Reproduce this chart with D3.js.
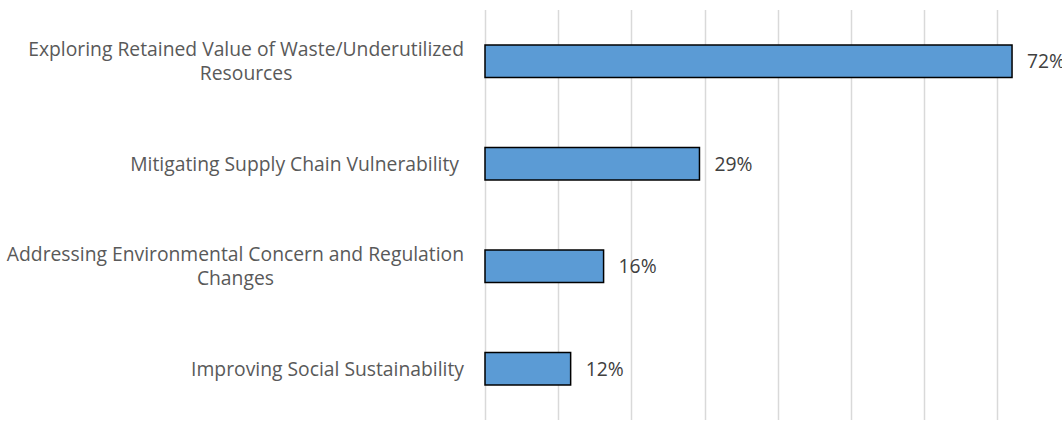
<!DOCTYPE html>
<html>
<head>
<meta charset="utf-8">
<script src="https://cdn.jsdelivr.net/npm/d3@7"></script>
<style>
  html, body { margin: 0; padding: 0; background: #fff; }
  svg { display: block; }
</style>
</head>
<body>
<svg id="chart" width="1062" height="422"></svg>
<script>
// ---- data ----
const categories = [
  ["Exploring Retained Value of Waste/Underutilized", "Resources"],
  ["Mitigating Supply Chain Vulnerability "],
  ["Addressing Environmental Concern and Regulation", "Changes"],
  ["Improving Social Sustainability"]
];
const values = [0.72, 0.293, 0.162, 0.117];
const gridTicks = [0, 0.1, 0.2, 0.3, 0.4, 0.5, 0.6, 0.7, 0.8];
const fmt = d3.format(".0%");

// ---- layout ----
const plotLeft = 485, plotTop = 10, plotBottom = 420;
const pxPer10 = 73.2;
const svg = d3.select("#chart");
const font = "'Open Sans', sans-serif";

const x = d3.scaleLinear().domain([0, 0.8]).range([plotLeft, plotLeft + pxPer10 * 8]);
const idx = d3.range(values.length);
const y = d3.scaleBand().domain(idx).range([plotTop, plotBottom])
  .paddingInner(0.683).paddingOuter(0.683 / 2);

// fit category font size so the longest first line is ~436px wide
const probe = svg.append("text").attr("font-family", font).attr("font-size", 20)
  .text(categories[0][0]);
const w20 = probe.node().getComputedTextLength();
probe.remove();
const catFS = Math.min(20, 20 * 436 / w20);

// gridlines
svg.append("g").selectAll("line").data(gridTicks).join("line")
  .attr("x1", d => Math.round(x(d)) + 0.5).attr("x2", d => Math.round(x(d)) + 0.5)
  .attr("y1", plotTop).attr("y2", plotBottom)
  .attr("stroke", "#d9d9d9").attr("stroke-width", 1.5);

// bars
svg.append("g").selectAll("rect").data(idx).join("rect")
  .attr("x", x(0))
  .attr("y", i => y(i))
  .attr("width", i => x(values[i]) - x(0))
  .attr("height", y.bandwidth())
  .attr("fill", "#5b9bd5")
  .attr("stroke", "#000")
  .attr("stroke-width", 1.5);

// value labels
svg.append("g").selectAll("text").data(idx).join("text")
  .attr("x", i => x(values[i]) + 15)
  .attr("y", i => y(i) + y.bandwidth() / 2)
  .attr("dy", "0.36em")
  .attr("font-family", font)
  .attr("font-size", catFS)
  .attr("fill", "#404040")
  .text(i => fmt(values[i]));

// category labels: block right-aligned, lines centered within block
const labelRight = 464;
const lineH = 24.5;
const cg = svg.append("g");
idx.forEach(i => {
  const lines = categories[i];
  const t = cg.append("text")
    .attr("font-family", font)
    .attr("font-size", catFS)
    .attr("fill", "#595959")
    .attr("xml:space", "preserve")
    .style("white-space", "pre");
  const cy = y(i) + y.bandwidth() / 2;
  const n = lines.length;
  const spans = lines.map((ln, k) => t.append("tspan")
    .attr("y", cy + (k - (n - 1) / 2) * lineH)
    .attr("dy", "0.36em")
    .text(ln));
  const widths = spans.map(s => s.node().getComputedTextLength());
  const maxW = d3.max(widths);
  const center = labelRight - maxW / 2;
  spans.forEach(s => s.attr("x", center).attr("text-anchor", "middle"));
});
</script>
</body>
</html>
